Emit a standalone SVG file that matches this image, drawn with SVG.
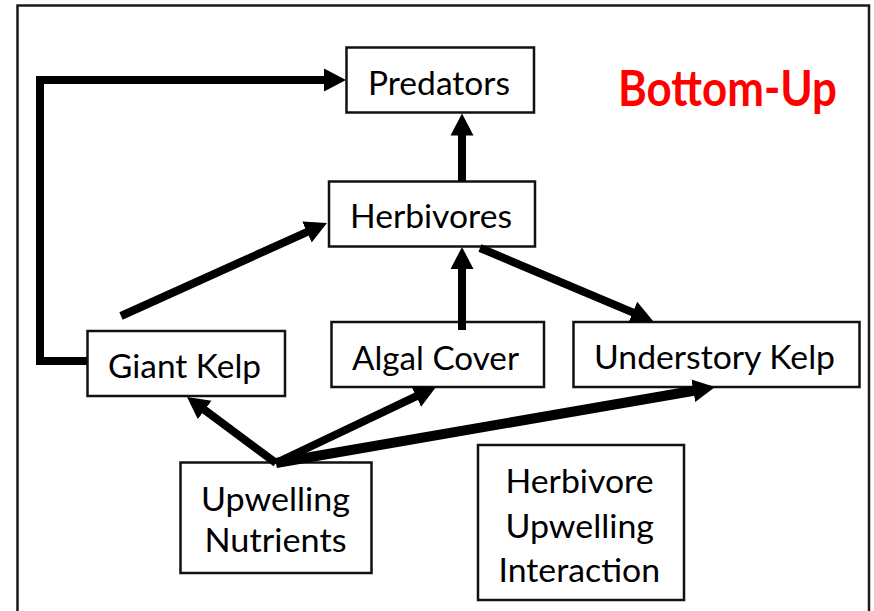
<svg xmlns="http://www.w3.org/2000/svg" width="874" height="611" viewBox="0 0 874 611">
  <style>
    .box { fill: #ffffff; stroke: #111111; stroke-width: 2.5; }
    .lbl { font-family: Lato, "Open Sans", "Liberation Sans", sans-serif; font-size: 32px; fill: #000000; }
    .title { font-family: Lato, "Open Sans", "Liberation Sans", sans-serif; font-size: 50px; font-weight: bold; fill: #ff0000; }
    .edge { fill: none; stroke: #000000; stroke-width: 8; stroke-linecap: butt; stroke-linejoin: miter; marker-end: url(#head); }
    .thick { stroke-width: 10; }
  </style>
  <defs>
    <marker id="head" markerUnits="userSpaceOnUse" viewBox="0 -12 23 24" markerWidth="23" markerHeight="24" refX="0.5" refY="0" orient="auto">
      <path d="M0,-11.5 L22,0 L0,11.5 z" fill="#000000"/>
    </marker>
  </defs>

  <rect x="0" y="0" width="874" height="611" fill="#ffffff"/>
  <!-- outer frame -->
  <rect x="17.5" y="5.5" width="851.5" height="620" fill="none" stroke="#1a1a1a" stroke-width="2.5"/>

  <text class="title" x="618" y="105.5" textLength="219" lengthAdjust="spacingAndGlyphs">Bottom-Up</text>

  <g id="predators">
    <rect class="box" x="346.5" y="47.5" width="187.5" height="65"/>
    <text class="lbl" x="368" y="94.5" textLength="142" lengthAdjust="spacingAndGlyphs">Predators</text>
  </g>
  <g id="herbivores">
    <rect class="box" x="329" y="181.5" width="206" height="65"/>
    <text class="lbl" x="350" y="228" textLength="162" lengthAdjust="spacingAndGlyphs">Herbivores</text>
  </g>
  <g id="giant-kelp">
    <rect class="box" x="87.5" y="331" width="197.5" height="65"/>
    <text class="lbl" x="108" y="378" textLength="153" lengthAdjust="spacingAndGlyphs">Giant Kelp</text>
  </g>
  <g id="algal-cover">
    <rect class="box" x="331.5" y="322" width="212.5" height="65"/>
    <text class="lbl" x="352" y="370" textLength="167" lengthAdjust="spacingAndGlyphs">Algal Cover</text>
  </g>
  <g id="understory-kelp">
    <rect class="box" x="573.5" y="322" width="286" height="65"/>
    <text class="lbl" x="594" y="368.5" textLength="241" lengthAdjust="spacingAndGlyphs">Understory Kelp</text>
  </g>
  <g id="upwelling-nutrients">
    <rect class="box" x="180.5" y="462.5" width="191" height="110.5"/>
    <text class="lbl" x="201" y="511" textLength="149" lengthAdjust="spacingAndGlyphs">Upwelling</text>
    <text class="lbl" x="204.5" y="552" textLength="142" lengthAdjust="spacingAndGlyphs">Nutrients</text>
  </g>
  <g id="herbivore-upwelling-interaction">
    <rect class="box" x="478" y="445" width="206" height="155"/>
    <text class="lbl" x="505.5" y="493" textLength="148" lengthAdjust="spacingAndGlyphs">Herbivore</text>
    <text class="lbl" x="505.5" y="537.5" textLength="148.5" lengthAdjust="spacingAndGlyphs">Upwelling</text>
    <text class="lbl" x="498.5" y="582" textLength="161.5" lengthAdjust="spacingAndGlyphs">Interaction</text>
  </g>

  <g id="connectors">
    <!-- giant kelp to predators, routed round the left side -->
    <path class="edge" d="M87,361 H40 V80 H324.5"/>
    <line class="edge" x1="121" y1="316" x2="307.4" y2="231.8"/>
    <line class="edge" x1="462" y1="181" x2="462" y2="135"/>
    <line class="edge" x1="462" y1="330" x2="462" y2="268.5"/>
    <line class="edge" x1="480" y1="248" x2="633.2" y2="312.6"/>
    <line class="edge" x1="276" y1="463" x2="204.3" y2="409.8"/>
    <line class="edge" x1="276" y1="463" x2="416.6" y2="396.2"/>
    <line class="edge thick" x1="276" y1="463" x2="693.8" y2="390.7"/>
  </g>
</svg>
